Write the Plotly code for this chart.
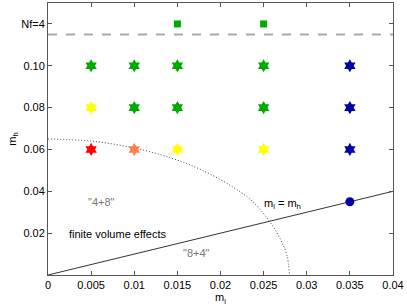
import plotly.graph_objects as go

# Data
star_ml = [0.005, 0.005, 0.005, 0.01, 0.01, 0.01, 0.015, 0.015, 0.015,
           0.025, 0.025, 0.025, 0.035, 0.035, 0.035]
star_mh = [0.06, 0.08, 0.10, 0.06, 0.08, 0.10, 0.06, 0.08, 0.10,
           0.06, 0.08, 0.10, 0.06, 0.08, 0.10]
star_colors = ["#FF0000", "#FFFF00", "#00AA00", "#FF7F50", "#00AA00", "#00AA00",
               "#FFFF00", "#00AA00", "#00AA00", "#FFFF00", "#00AA00", "#00AA00",
               "#0000AA", "#0000AA", "#0000AA"]
nf4_ml = [0.015, 0.025]
nf4_mh = [0.12, 0.12]
circle_ml = [0.035]
circle_mh = [0.035]
diag_ml = [0.0, 0.04]
diag_mh = [0.0, 0.04]
curve_ml = [0.0, 0.005, 0.01, 0.0145, 0.0179, 0.0215, 0.0238, 0.0257, 0.0269, 0.0277, 0.028]
curve_mh = [0.065, 0.064, 0.0607, 0.0556, 0.050, 0.0419, 0.0348, 0.0255, 0.0175, 0.0095, 0.0]
dash_level = 0.115
x_ticks = [0, 0.005, 0.01, 0.015, 0.02, 0.025, 0.03, 0.035, 0.04]
x_ticktext = ["0", "0.005", "0.01", "0.015", "0.02", "0.025", "0.03", "0.035", "0.04"]
y_ticks = [0.02, 0.04, 0.06, 0.08, 0.10, 0.12]
y_ticktext = ["0.02", "0.04", "0.06", "0.08", "0.10", "Nf=4"]

FONT = "Liberation Sans, Arial, Helvetica, sans-serif"
FS = 11

fig = go.Figure()
fig.add_trace(go.Scatter(x=diag_ml, y=diag_mh, mode="lines",
                         line=dict(color="#333333", width=1), showlegend=False))
fig.add_trace(go.Scatter(x=curve_ml, y=curve_mh, mode="lines", line_shape="spline",
                         line=dict(color="#444444", width=1, dash="1px,2px"), showlegend=False))
fig.add_trace(go.Scatter(x=star_ml, y=star_mh, mode="markers",
                         marker=dict(symbol="hexagram", size=10, color=star_colors,
                                     line=dict(width=0)), showlegend=False))
fig.add_trace(go.Scatter(x=nf4_ml, y=nf4_mh, mode="markers",
                         marker=dict(symbol="square", size=7, color="#00AA00",
                                     line=dict(width=0)), showlegend=False))
fig.add_trace(go.Scatter(x=circle_ml, y=circle_mh, mode="markers",
                         marker=dict(symbol="circle", size=9, color="#0000AA",
                                     line=dict(width=0)), showlegend=False))

fig.add_shape(type="line", xref="paper", yref="y", x0=0, x1=1, y0=dash_level, y1=dash_level,
              line=dict(color="#AAAAAA", width=2, dash="dash"))

fig.add_annotation(x=0.0062, y=0.035, text='"4+8"', showarrow=False,
                   font=dict(color="#777777", size=FS, family=FONT))
fig.add_annotation(x=0.0172, y=0.0105, text='"8+4"', showarrow=False,
                   font=dict(color="#777777", size=FS, family=FONT))
fig.add_annotation(x=0.0081, y=0.0195, text="finite volume effects", showarrow=False,
                   font=dict(color="black", size=FS, family=FONT))
fig.add_annotation(x=0.0272, y=0.034, text="m<sub>l</sub> = m<sub>h</sub>", showarrow=False,
                   font=dict(color="black", size=FS, family=FONT))

axis_common = dict(showgrid=False, zeroline=False, showline=True, linecolor="#555555",
                   linewidth=1, mirror="ticks", ticks="inside", ticklen=4,
                   tickcolor="#555555", tickfont=dict(size=FS, color="black", family=FONT))
fig.update_xaxes(range=[0, 0.04], tickvals=x_ticks, ticktext=x_ticktext,
                 title=dict(text="m<sub>l</sub>", standoff=0,
                            font=dict(size=FS, color="black", family=FONT)),
                 **axis_common)
fig.update_yaxes(range=[0, 0.13], tickvals=y_ticks, ticktext=y_ticktext,
                 title=dict(text="m<sub>h</sub>", standoff=2,
                            font=dict(size=FS, color="black", family=FONT)),
                 **axis_common)

fig.update_layout(width=407, height=306, margin=dict(l=48, r=14, t=3, b=31),
                  plot_bgcolor="white", paper_bgcolor="white",
                  font=dict(family=FONT, size=FS, color="black"))

fig.write_html("out.html", config={"displayModeBar": False},
               post_script="document.body.style.margin='0';document.body.style.overflow='hidden';")
